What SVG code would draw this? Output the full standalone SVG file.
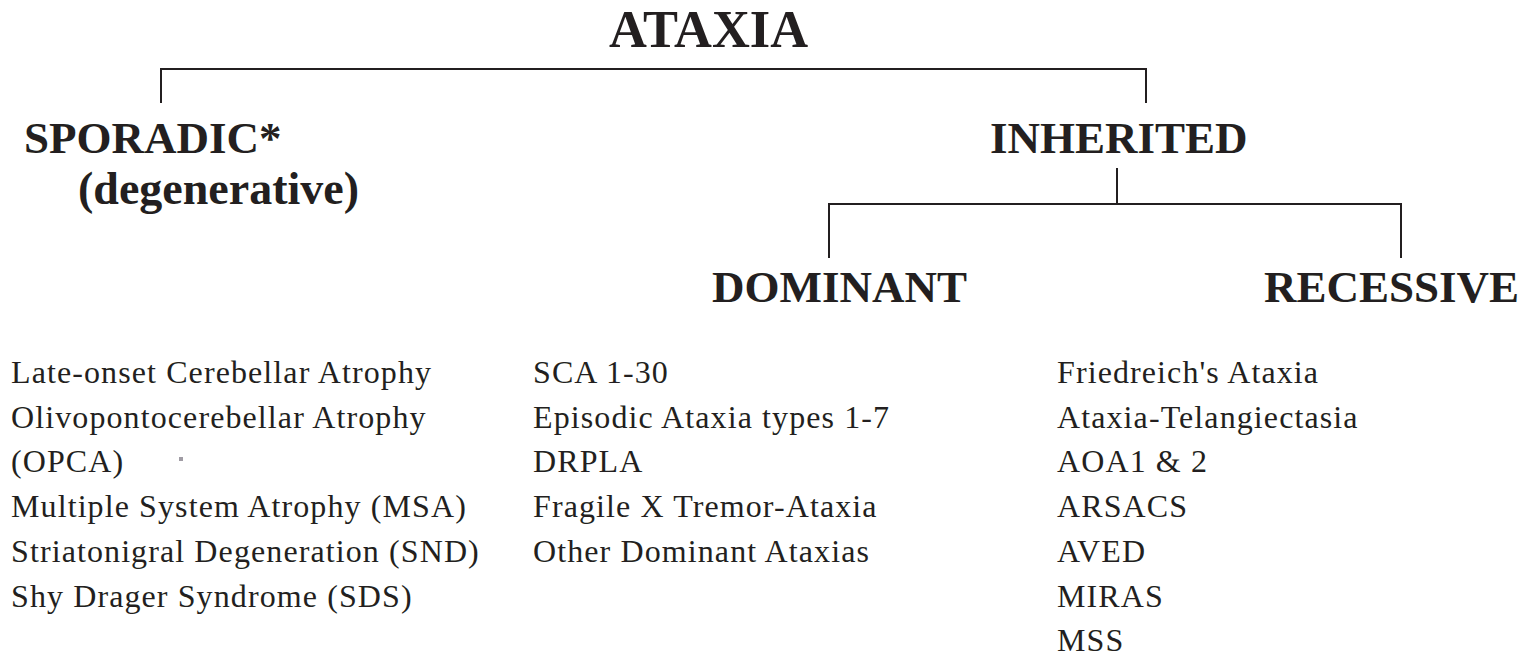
<svg xmlns="http://www.w3.org/2000/svg" width="1540" height="657" viewBox="0 0 1540 657">
<style>
.h{font-family:"Liberation Serif","Times New Roman",serif;font-weight:bold;fill:#231f20}
.t{font-family:"Liberation Serif","Times New Roman",serif;font-size:32px;letter-spacing:1.1px;fill:#231f20}
.c{fill:none;stroke:#231f20;stroke-width:2}
</style>
<rect width="1540" height="657" fill="#ffffff"/>
<g id="connectors">
<path class="c" d="M161,103 V69 H1146 V103"/>
<path class="c" d="M1117,168 V204"/>
<path class="c" d="M829,258 V204 H1401 V258"/>
</g>
<g id="ataxia"><text class="h" x="609" y="47" font-size="53" textLength="199" lengthAdjust="spacingAndGlyphs">ATAXIA</text></g>
<g id="sporadic">
<text class="h" x="24" y="153" font-size="45">SPORADIC*</text>
<text class="h" x="78" y="204" font-size="46">(degenerative)</text>
</g>
<g id="inherited"><text class="h" x="990" y="153" font-size="45">INHERITED</text></g>
<g id="dominant"><text class="h" x="712" y="302" font-size="45">DOMINANT</text></g>
<g id="recessive"><text class="h" x="1264" y="302" font-size="45">RECESSIVE</text></g>
<g id="sporadic-list">
<text class="t" x="11" y="383">Late-onset Cerebellar Atrophy</text>
<text class="t" x="11" y="428">Olivopontocerebellar Atrophy</text>
<text class="t" x="11" y="472">(OPCA)</text>
<text class="t" x="11" y="517">Multiple System Atrophy (MSA)</text>
<text class="t" x="11" y="562">Striatonigral Degeneration (SND)</text>
<text class="t" x="11" y="607">Shy Drager Syndrome (SDS)</text>
</g>
<g id="dominant-list">
<text class="t" x="533" y="383">SCA 1-30</text>
<text class="t" x="533" y="428">Episodic Ataxia types 1-7</text>
<text class="t" x="533" y="472">DRPLA</text>
<text class="t" x="533" y="517">Fragile X Tremor-Ataxia</text>
<text class="t" x="533" y="562">Other Dominant Ataxias</text>
</g>
<g id="recessive-list">
<text class="t" x="1057" y="383">Friedreich's Ataxia</text>
<text class="t" x="1057" y="428">Ataxia-Telangiectasia</text>
<text class="t" x="1057" y="472">AOA1 &amp; 2</text>
<text class="t" x="1057" y="517">ARSACS</text>
<text class="t" x="1057" y="562">AVED</text>
<text class="t" x="1057" y="607">MIRAS</text>
<text class="t" x="1057" y="651">MSS</text>
</g>
<rect x="179" y="457" width="4" height="4" fill="#a09ca4"/>
</svg>
